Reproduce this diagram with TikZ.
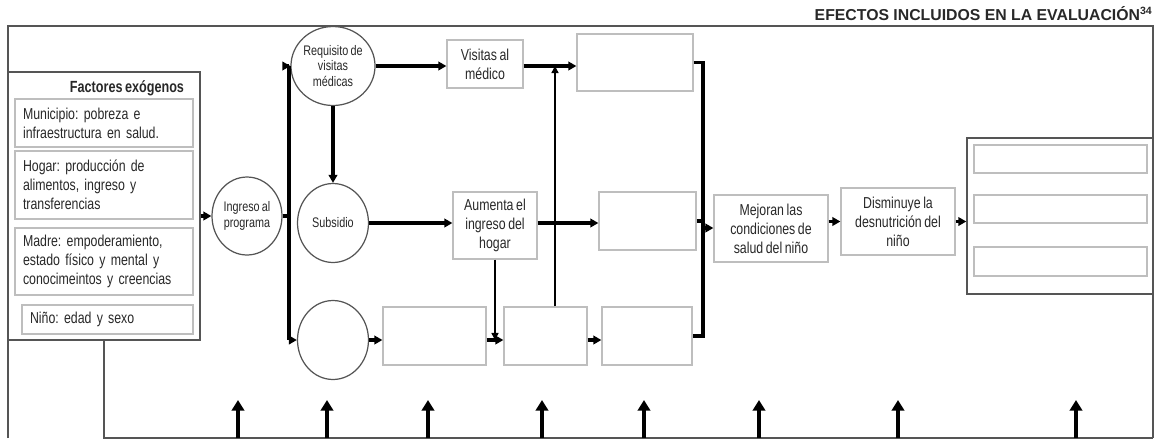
\documentclass[tikz,border=0pt]{standalone}
\usepackage{fontspec}
\setmainfont[FakeStretch=0.78, WordSpace=0.75]{Liberation Sans}
\newfontfamily\titlefont{Liberation Sans}
\frenchspacing
\usepackage{xcolor}
\definecolor{evframe}{RGB}{85,85,85}
\definecolor{evbox}{RGB}{190,190,190}
\definecolor{evtext}{RGB}{40,40,40}
\usepackage{tikz}
\usetikzlibrary{arrows.meta, positioning, shapes.geometric, calc}

\begin{document}
\begin{tikzpicture}[
  x=0.02cm, y=-0.02cm,
  frame/.style={draw=evframe, line width=0.8pt},
  pbox/.style={rectangle, draw=evbox, line width=0.7pt, inner sep=1pt, align=center,
               text=evtext, font=\fontsize{9}{10.8}\selectfont},
  lbox/.style={pbox, align=left, inner xsep=0.16cm},
  circ/.style={ellipse, draw=evframe, line width=0.7pt, inner sep=0pt, align=center,
               minimum width=1.42cm, minimum height=1.58cm, text=evtext,
               font=\fontsize{7.9}{8.7}\selectfont},
  arr/.style={-{Triangle[length=4.5pt,width=4.8pt]}, line width=1.8pt},
  tarr/.style={-{Triangle[length=4pt,width=4pt]}, line width=0.8pt},
  ln/.style={line width=1.8pt},
  uparr/.style={-{Triangle[length=6pt,width=7pt]}, line width=2.2pt}
]
  \useasboundingbox (0,0) rectangle (1154,441);
  % Title
  \node[anchor=east, inner sep=0pt, text=evtext, font=\titlefont\bfseries\fontsize{9}{10}\selectfont]
    (title) at (1153,14) {EFECTOS INCLUIDOS EN LA EVALUACIÓN\textsuperscript{34}};
  % Outer frame
  \draw[frame] (8,438) -- (8,26) -- (1153,26) -- (1153,438);

  % Exogenous factors
  \node[frame, rectangle, minimum width=3.84cm, minimum height=5.36cm] (fact) at (104,206) {};
  \node[font=\fontsize{9.2}{10}\selectfont\bfseries, text=evtext] (facttit) at (127,88) {Factores exógenos};
  \node[lbox, text width=3.24cm, minimum height=0.96cm] (mun) at (104,123)
    {Municipio: pobreza e\\infraestructura en salud.};
  \node[lbox, text width=3.24cm, minimum height=1.36cm] (hog) at (104,185)
    {Hogar: producción de\\alimentos, ingreso y\\transferencias};
  \node[lbox, text width=3.24cm, minimum height=1.34cm] (mad) at (104,261.5)
    {Madre: empoderamiento,\\estado físico y mental y\\conocimeintos y creencias};
  \node[lbox, text width=3.10cm, minimum height=0.58cm] (nin) at (107.5,319.5)
    {Niño: edad y sexo};

  % Circles
  \node[circ, minimum width=1.40cm, minimum height=1.56cm] (ing) at (247,216) {Ingreso al\\programa};
  \node[circ] (req) at (333,66) {Requisito de\\visitas\\médicas};
  \node[circ] (sub) at (333,223) {Subsidio};
  \node[circ] (emp) at (333,340) {};

  % Boxes
  \node[pbox, minimum width=1.52cm, minimum height=0.96cm] (vis) at (485,64) {Visitas al\\médico};
  \node[pbox, minimum width=2.32cm, minimum height=1.14cm] (e1) at (635,62.5) {};
  \node[pbox, minimum width=1.68cm, minimum height=1.34cm] (aum) at (495,225.5) {Aumenta el\\ingreso del\\hogar};
  \node[pbox, minimum width=1.94cm, minimum height=1.16cm] (e2) at (647.5,221) {};
  \node[pbox, minimum width=2.06cm, minimum height=1.16cm] (eA) at (434.5,336) {};
  \node[pbox, minimum width=1.66cm, minimum height=1.16cm] (eB) at (545.5,336) {};
  \node[pbox, minimum width=1.80cm, minimum height=1.16cm] (eC) at (647,336) {};
  \node[pbox, minimum width=2.28cm, minimum height=1.34cm] (mej) at (771,228.5) {Mejoran las\\condiciones de\\salud del niño};
  \node[pbox, minimum width=2.28cm, minimum height=1.34cm] (dis) at (898,221.5) {Disminuye la\\desnutrición del\\niño};

  % Effects box
  \node[frame, rectangle, minimum width=3.72cm, minimum height=3.12cm] (big) at (1060,216) {};
  \node[pbox, minimum width=3.46cm, minimum height=0.56cm] (r1) at (1060.5,159) {};
  \node[pbox, minimum width=3.46cm, minimum height=0.56cm] (r2) at (1060.5,209) {};
  \node[pbox, minimum width=3.46cm, minimum height=0.58cm] (r3) at (1060.5,261.5) {};

  % Helper coordinates
  \coordinate (bus) at (289,216);
  \coordinate (jv) at (555,66);
  \coordinate (col) at (703,228);
  \coordinate (base) at (1153,438);

  % Arrows
  \draw[arr] (fact.east |- ing.west) -- (ing.west);
  \draw[ln] (ing.east) -- (bus);
  \draw[ln] (bus |- req) -- (bus |- emp);
  \draw[arr] (bus |- req) -- (req.west);
  \draw[arr] (bus |- emp) -- (emp.west);
  \draw[arr] (req.south) -- (sub.north);
  \draw[arr] (req.east) -- (req.east -| vis.west);
  \draw[arr] (vis.east |- req.east) -- (e1.west |- req.east);
  \draw[tarr] (eB.north -| jv) -- (jv);
  \draw[arr] (sub.east) -- (sub.east -| aum.west);
  \draw[arr] (aum.east |- sub.east) -- (e2.west |- sub.east);
  \draw[tarr] (aum.south) -- (aum.south |- emp.east);
  \draw[arr] (emp.east) -- (emp.east -| eA.west);
  \draw[arr] (eA.east |- emp.east) -- (eB.west |- emp.east);
  \draw[arr] (eB.east |- emp.east) -- (eC.west |- emp.east);
  % Collector
  \draw[ln] (e1.east) -- (e1.east -| col) -- (col |- eC.east) -- (eC.east);
  \draw[ln] (e2.east) -- (e2.east -| col);
  \draw[arr] (col) -- (col -| mej.west);
  \draw[arr] (mej.east |- dis.west) -- (dis.west);
  \draw[arr] (dis.east) -- (dis.east -| big.west);

  % Feedback from factors along the bottom
  \draw[frame] (fact.south) -- (fact.south |- base) -- (base);
  \foreach \xa in {238,327,428,542,644,759,898,1076}
    \draw[uparr] (\xa,438) -- (\xa,400);
\end{tikzpicture}
\end{document}
